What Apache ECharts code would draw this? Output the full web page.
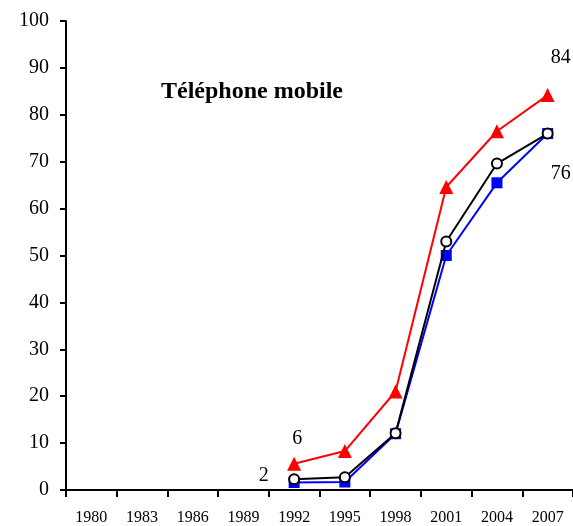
<!DOCTYPE html>
<html>
<head>
<meta charset="utf-8">
<script src="https://cdn.jsdelivr.net/npm/echarts@6/dist/echarts.min.js"></script>
<style>
  html, body { margin: 0; padding: 0; background: #fff; }
  #chart { width: 573px; height: 526px; }
</style>
</head>
<body>
<div id="chart"></div>
<script>
const years = ['1980', '1983', '1986', '1989', '1992', '1995', '1998', '2001', '2004', '2007'];
const blueSquares = [null, null, null, null, 1.6, 1.7, 12, 50, 65.5, 76];
const blackCircles = [null, null, null, null, 2.3, 2.7, 12.1, 53, 69.6, 76];
const redTriangles = [null, null, null, null, 5.6, 8.3, 21, 64.6, 76.5, 84.2];
const yTicks = [0, 10, 20, 30, 40, 50, 60, 70, 80, 90, 100];

const serif = '"Liberation Serif", "Times New Roman", serif';
const labelStyle = { color: '#000', fontFamily: serif, fontSize: 20 };

const withLabel = (arr, idx, label) => arr.map((v, i) => {
    if (i !== idx || v == null) return v;
    return { value: v, label: Object.assign({ show: true, formatter: p => Math.round(p.value) }, labelStyle, label) };
});

const chart = echarts.init(document.getElementById('chart'));

chart.setOption({
    animation: false,
    title: {
        text: 'Téléphone mobile',
        left: 156,
        top: 75,
        textStyle: { fontFamily: serif, fontWeight: 'bold', fontSize: 24, color: '#000' }
    },
    grid: { left: 66, top: 21, right: -4, bottom: 35 },
    xAxis: {
        type: 'category',
        data: years,
        boundaryGap: true,
        axisLine: { lineStyle: { color: '#000', width: 2 } },
        axisTick: { show: true, length: 7, lineStyle: { color: '#000', width: 2 } },
        axisLabel: { color: '#000', fontFamily: serif, fontSize: 16, margin: 20, interval: 0 },
        splitLine: { show: false }
    },
    yAxis: {
        type: 'value',
        min: yTicks[0],
        max: yTicks[yTicks.length - 1],
        interval: 10,
        axisLine: { show: true, lineStyle: { color: '#000', width: 2 } },
        axisTick: { show: true, length: 6, lineStyle: { color: '#000', width: 2 } },
        axisLabel: { color: '#000', fontFamily: serif, fontSize: 20, margin: 17 },
        splitLine: { show: false }
    },
    series: [
        {
            name: 'blue',
            type: 'line',
            data: withLabel(blueSquares, 4, { position: 'left', distance: 20, offset: [0, -7] }),
            symbol: 'rect',
            symbolSize: 11,
            itemStyle: { color: '#0000ff' },
            lineStyle: { color: '#0000ff', width: 2 },
            z: 2
        },
        {
            name: 'black',
            type: 'line',
            data: withLabel(blackCircles, 9, { position: 'bottom', distance: 24, offset: [13, 0] }),
            symbol: 'circle',
            symbolSize: 10,
            showAllSymbol: true,
            itemStyle: { color: '#fff', borderColor: '#000', borderWidth: 2 },
            lineStyle: { color: '#000', width: 2 },
            z: 3
        },
        {
            name: 'red',
            type: 'line',
            data: withLabel(withLabel(redTriangles, 4, { position: 'top', distance: 8, offset: [3, 0] }), 9, { position: 'top', distance: 20, offset: [13, 0] }),
            symbol: 'triangle',
            symbolSize: 14,
            itemStyle: { color: '#ff0000' },
            lineStyle: { color: '#ff0000', width: 2 },
            z: 4
        }
    ]
});
</script>
</body>
</html>
